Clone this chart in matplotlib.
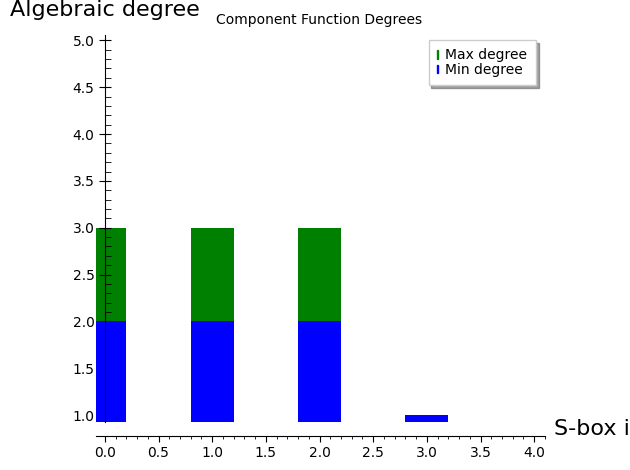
import matplotlib
matplotlib.use("Agg")
import matplotlib.pyplot as plt
from matplotlib.patches import Patch
from matplotlib.ticker import MultipleLocator, AutoMinorLocator

# Component function degrees per S-box index
sbox_idx = [0, 1, 2, 3]
max_degree = [3, 3, 3, 1]
min_degree = [2, 2, 2, 1]

fig = plt.figure(figsize=(6.3, 4.7), dpi=100)
ax = fig.add_axes([0.152, 0.102, 0.713, 0.824])

ax.bar(sbox_idx, max_degree, width=0.4, color="green", zorder=1)
ax.bar(sbox_idx, min_degree, width=0.4, color="blue", zorder=2)

ax.set_xlim(-0.085, 4.1)
ax.set_ylim(0.925, 5.06)

ax.spines["top"].set_visible(False)
ax.spines["right"].set_visible(False)
ax.spines["left"].set_position(("data", 0))
ax.spines["bottom"].set_position(("outward", 10))
ax.spines["left"].set_zorder(3)

ax.xaxis.set_major_locator(MultipleLocator(0.5))
ax.xaxis.set_minor_locator(AutoMinorLocator(5))
ax.yaxis.set_major_locator(MultipleLocator(0.5))
ax.yaxis.set_minor_locator(AutoMinorLocator(5))
ax.tick_params(axis="both", labelsize=10)
ax.tick_params(axis="y", which="major", direction="inout", length=8)
ax.tick_params(axis="y", which="minor", direction="in", length=4)
ax.tick_params(axis="x", which="major", direction="out", length=4)
ax.tick_params(axis="x", which="minor", direction="out", length=2)

fig.text(0.016, 1.0, "Algebraic degree", fontsize=16, ha="left", va="top")
fig.text(0.88, 0.088, "S-box i", fontsize=16, ha="left", va="center")
fig.text(0.507, 0.957, "Component Function Degrees", fontsize=10, ha="center", va="center")

handles = [Patch(color="green", label="Max degree"), Patch(color="blue", label="Min degree")]
ax.legend(handles=handles, loc="upper right", bbox_to_anchor=(0.995, 1.005),
          fontsize=10, shadow=True, fancybox=False, handlelength=0.06,
          handleheight=0.6, handletextpad=0.55, labelspacing=0.05,
          borderpad=0.6, edgecolor="#cccccc", framealpha=1)

fig.savefig("out.png", dpi=100)
